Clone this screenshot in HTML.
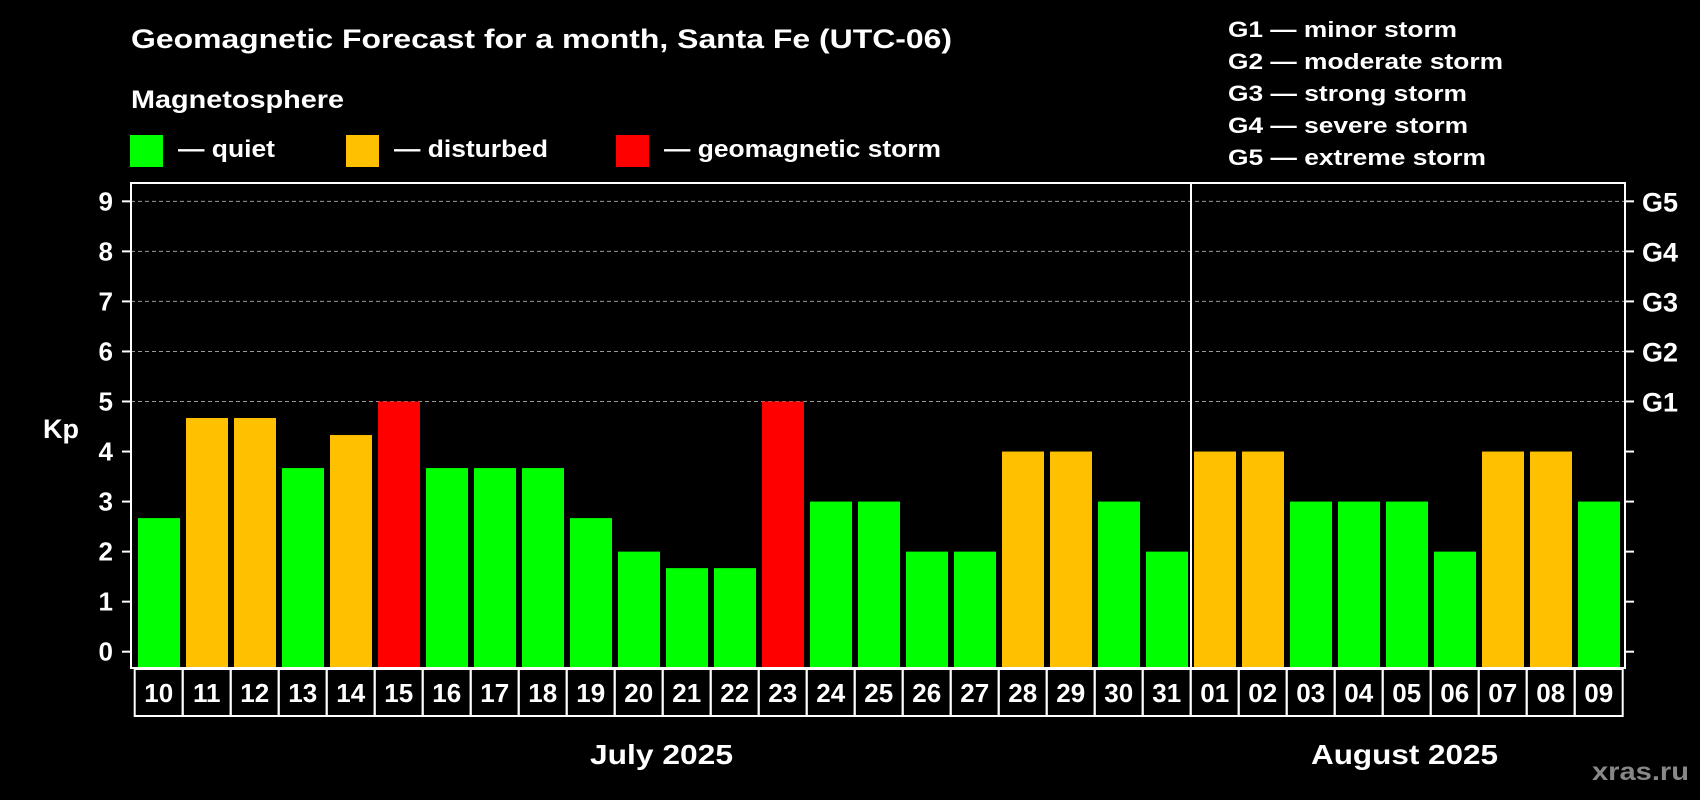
<!DOCTYPE html>
<html><head><meta charset="utf-8"><style>
html,body{margin:0;padding:0;background:#000;}
svg{display:block;font-family:"Liberation Sans",Arial,sans-serif;font-weight:bold;}
</style></head><body>
<svg id="chart" width="1700" height="800" viewBox="0 0 1700 800" xmlns="http://www.w3.org/2000/svg">
<rect width="1700" height="800" fill="#000"/>
<text x="131" y="48" fill="#fff" font-size="27" textLength="821" lengthAdjust="spacingAndGlyphs">Geomagnetic Forecast for a month, Santa Fe (UTC-06)</text>
<text x="131" y="108" fill="#fff" font-size="25" textLength="213" lengthAdjust="spacingAndGlyphs">Magnetosphere</text>
<g><rect x="130" y="135" width="33" height="32" fill="#00ff00"/><text x="178" y="157" fill="#fff" font-size="24" textLength="97" lengthAdjust="spacingAndGlyphs">— quiet</text></g>
<g><rect x="346" y="135" width="33" height="32" fill="#ffc000"/><text x="394" y="157" fill="#fff" font-size="24" textLength="154" lengthAdjust="spacingAndGlyphs">— disturbed</text></g>
<g><rect x="616" y="135" width="33" height="32" fill="#ff0000"/><text x="664" y="157" fill="#fff" font-size="24" textLength="277" lengthAdjust="spacingAndGlyphs">— geomagnetic storm</text></g>
<g fill="#fff" font-size="22">
<text x="1228" y="37" textLength="229" lengthAdjust="spacingAndGlyphs">G1 — minor storm</text>
<text x="1228" y="69" textLength="275" lengthAdjust="spacingAndGlyphs">G2 — moderate storm</text>
<text x="1228" y="101" textLength="239" lengthAdjust="spacingAndGlyphs">G3 — strong storm</text>
<text x="1228" y="133" textLength="240" lengthAdjust="spacingAndGlyphs">G4 — severe storm</text>
<text x="1228" y="165" textLength="258" lengthAdjust="spacingAndGlyphs">G5 — extreme storm</text>
</g>
<g id="grid"></g>
<g id="bars"></g>
<g id="axes"></g>
<text x="43" y="438" fill="#fff" font-size="27">Kp</text>
<text x="590" y="764" fill="#fff" font-size="28" textLength="143" lengthAdjust="spacingAndGlyphs">July 2025</text>
<text x="1311" y="764" fill="#fff" font-size="28" textLength="187" lengthAdjust="spacingAndGlyphs">August 2025</text>
<text x="1592" y="780" fill="#888" font-size="25" textLength="97" lengthAdjust="spacingAndGlyphs">xras.ru</text>
</svg>
<script>
const days = ["10","11","12","13","14","15","16","17","18","19","20","21","22","23","24","25","26","27","28","29","30","31","01","02","03","04","05","06","07","08","09"];
const kpValues = [2.67,4.67,4.67,3.67,4.33,5,3.67,3.67,3.67,2.67,2,1.67,1.67,5,3,3,2,2,4,4,3,2,4,4,3,3,3,2,4,4,3];
const yTicks = [0,1,2,3,4,5,6,7,8,9];
const gLabels = ["G1","G2","G3","G4","G5"];
const gLevels = [5,6,7,8,9];
const monthSplitIndex = 22;

const NS = "http://www.w3.org/2000/svg";
const plotL = 131, plotR = 1625, plotT = 183, plotB = 668;
const y = v => 651.7 - 50.04 * v;
const slot = 48, barX0 = 138, barW = 42, cellX0 = 134.7;
const xb = i => barX0 + slot * i;
function mk(tag, attrs, parent){const e=document.createElementNS(NS,tag);for(const k in attrs)e.setAttribute(k,attrs[k]);parent.appendChild(e);return e;}
const grid = document.getElementById('grid'), bars = document.getElementById('bars'), axes = document.getElementById('axes');

gLevels.forEach((v,i)=>{
  const l = mk('line',{x1:plotL,x2:plotR,y1:y(v),y2:y(v),stroke:'#999','stroke-width':1,'stroke-dasharray':'4 3'},grid);
  
  
});

kpValues.forEach((v,i)=>{
  const c = v >= 5 ? '#ff0000' : (v >= 4 ? '#ffc000' : '#00ff00');
  const r = mk('rect',{x:xb(i),y:y(v),width:barW,height:plotB - y(v),fill:c},bars);
  
  
});

const frame = mk('rect',{x:plotL,y:plotT,width:plotR-plotL,height:plotB-plotT,fill:'none',stroke:'#fff','stroke-width':2},axes);


const sepX = xb(monthSplitIndex) - 3;
const sep = mk('line',{x1:sepX,x2:sepX,y1:plotT,y2:plotB,stroke:'#fff','stroke-width':2},axes);



yTicks.forEach(v=>{
  mk('line',{x1:plotL-9,x2:plotL,y1:y(v),y2:y(v),stroke:'#fff','stroke-width':2},axes);
  mk('line',{x1:plotR,x2:plotR+9,y1:y(v),y2:y(v),stroke:'#fff','stroke-width':2},axes);
  const t = mk('text',{x:113,y:y(v)+9,'text-anchor':'end',fill:'#fff','font-size':26},axes);
  t.textContent = v;
  
  
});
gLevels.forEach((v,i)=>{
  const t = mk('text',{x:1642,y:y(v)+10,fill:'#fff','font-size':27},axes);
  t.textContent = gLabels[i];
  
  
});

const cellT = 669, cellB = 716;
days.forEach((d,i)=>{
  const cx = cellX0 + slot*i;
  const r = mk('rect',{x:cx,y:cellT,width:slot,height:cellB-cellT,fill:'none',stroke:'#fff','stroke-width':2},axes);
  
  
  const t = mk('text',{x:cx+slot/2,y:702,'text-anchor':'middle',fill:'#fff','font-size':26},axes);
  t.textContent = d;
  
  
});
</script>
</body></html>
